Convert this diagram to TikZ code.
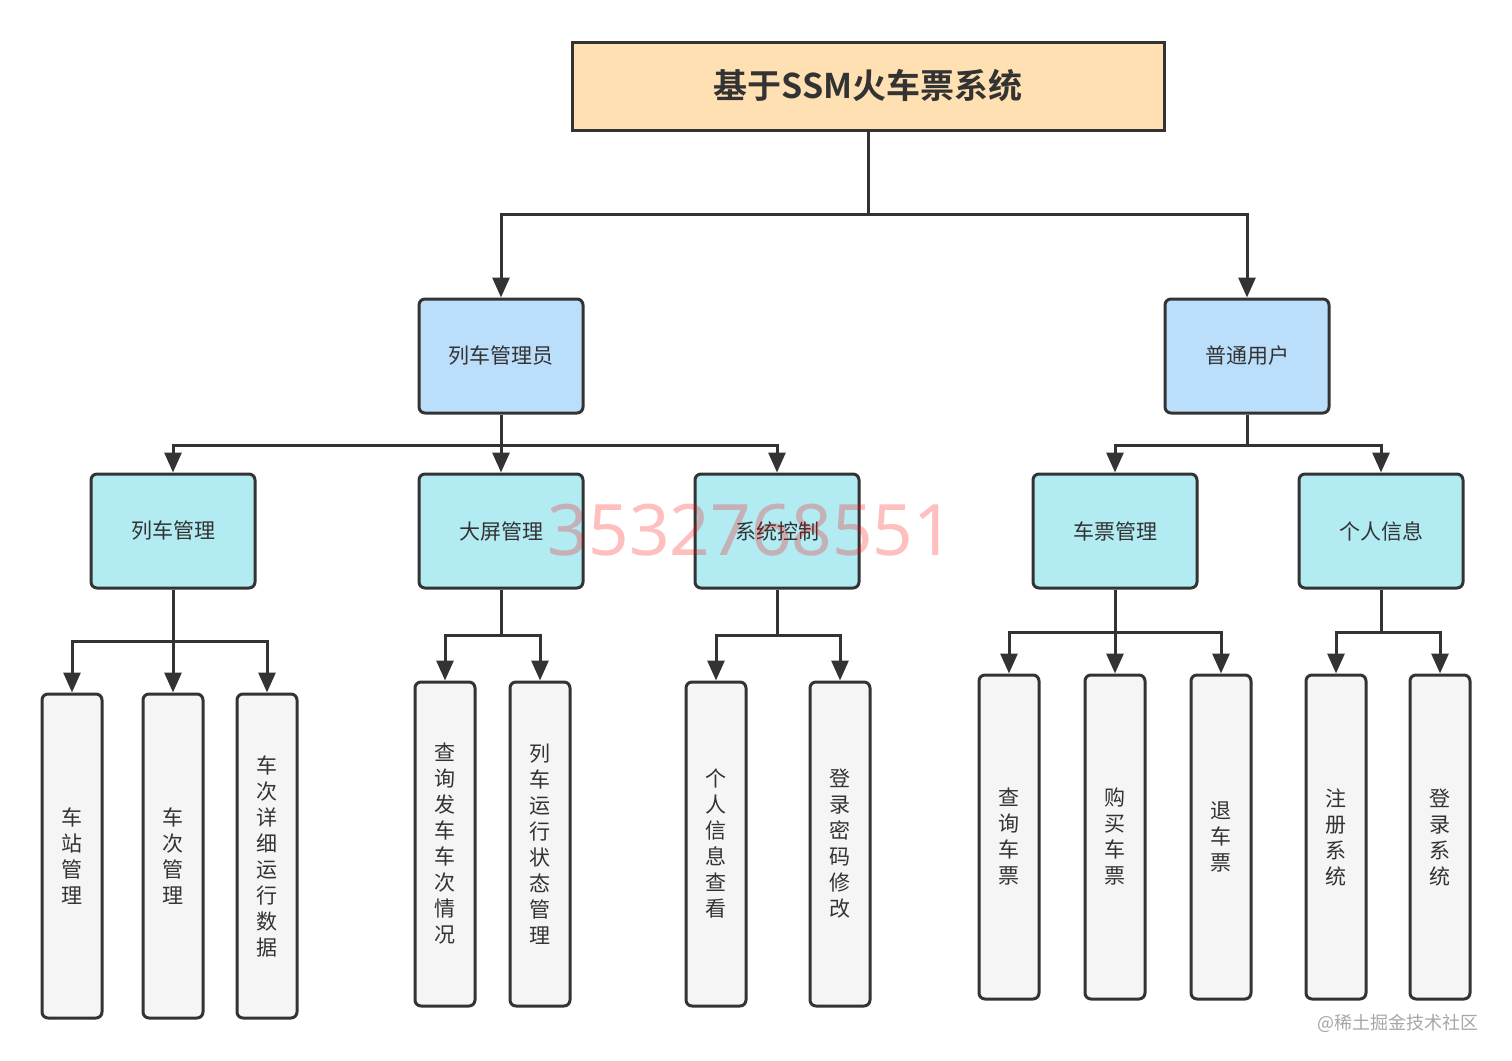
\documentclass[tikz,border=0pt]{standalone}
\usepackage{fontspec}
\usetikzlibrary{arrows.meta}
\newfontfamily\cjk{Noto Sans CJK SC}[BoldFont={Noto Sans CJK SC Bold}]
\newfontfamily\digits{Noto Sans}
\definecolor{linegray}{HTML}{333333}
\definecolor{rootorange}{HTML}{FFE0B2}
\definecolor{roleblue}{HTML}{BBDEFB}
\definecolor{modcyan}{HTML}{B2EBF2}
\definecolor{leafgray}{HTML}{F5F5F5}

\begin{document}
\begin{tikzpicture}[x=0.5pt,y=-0.5pt,
  box/.style={rectangle,draw=linegray,line width=1.5pt,rounded corners=3pt,text=linegray,
    font=\cjk\fontsize{10.5}{13}\selectfont,minimum width=82pt,minimum height=57pt,inner sep=0pt},
  rootbox/.style={box,rounded corners=0pt,fill=rootorange,minimum width=296pt,minimum height=44pt,
    font=\cjk\bfseries\fontsize{17}{20}\selectfont},
  rolebox/.style={box,fill=roleblue},
  modbox/.style={box,fill=modcyan},
  leaf/.style={box,fill=leafgray,minimum width=30pt,minimum height=162pt,align=center},
  arr/.style={draw=linegray,line width=1.5pt,-{Triangle[length=10pt,width=8.5pt]}}]
\useasboundingbox (0,0) rectangle (1512,1061);

\node[rootbox] (sys) at (868,86) {基于SSM火车票系统};

\node[rolebox] (admin) at (501,356) {列车管理员};
\node[rolebox] (user) at (1247,356) {普通用户};

\node[modbox] (train) at (173,531) {列车管理};
\node[modbox] (screen) at (501,531) {大屏管理};
\node[modbox] (ctrl) at (777,531) {系统控制};
\node[modbox] (ticket) at (1115,531) {车票管理};
\node[modbox] (info) at (1381,531) {个人信息};

\node[leaf] (station) at (72,856) {车\\站\\管\\理};
\node[leaf] (trainno) at (173,856) {车\\次\\管\\理};
\node[leaf] (rundata) at (267,856) {车\\次\\详\\细\\运\\行\\数\\据};
\node[leaf] (query) at (445,844) {查\\询\\发\\车\\车\\次\\情\\况};
\node[leaf] (state) at (540,844) {列\\车\\运\\行\\状\\态\\管\\理};
\node[leaf] (view) at (716,844) {个\\人\\信\\息\\查\\看};
\node[leaf] (pwd) at (840,844) {登\\录\\密\\码\\修\\改};
\node[leaf] (search) at (1009,837) {查\\询\\车\\票};
\node[leaf] (buy) at (1115,837) {购\\买\\车\\票};
\node[leaf] (refund) at (1221,837) {退\\车\\票};
\node[leaf] (reg) at (1336,837) {注\\册\\系\\统};
\node[leaf] (login) at (1440,837) {登\\录\\系\\统};

\draw[arr] (sys.south) -- ++(0,83) -| (admin.north);
\draw[arr] (sys.south) -- ++(0,83) -| (user.north);

\draw[arr] (admin.south) -- ++(0,31) -| (train.north);
\draw[arr] (admin.south) -- (screen.north);
\draw[arr] (admin.south) -- ++(0,31) -| (ctrl.north);
\draw[arr] (user.south) -- ++(0,31) -| (ticket.north);
\draw[arr] (user.south) -- ++(0,31) -| (info.north);

\draw[arr] (train.south) -- ++(0,52) -| (station.north);
\draw[arr] (train.south) -- (trainno.north);
\draw[arr] (train.south) -- ++(0,52) -| (rundata.north);
\draw[arr] (screen.south) -- ++(0,46) -| (query.north);
\draw[arr] (screen.south) -- ++(0,46) -| (state.north);
\draw[arr] (ctrl.south) -- ++(0,46) -| (view.north);
\draw[arr] (ctrl.south) -- ++(0,46) -| (pwd.north);
\draw[arr] (ticket.south) -- ++(0,43) -| (search.north);
\draw[arr] (ticket.south) -- (buy.north);
\draw[arr] (ticket.south) -- ++(0,43) -| (refund.north);
\draw[arr] (info.south) -- ++(0,43) -| (reg.north);
\draw[arr] (info.south) -- ++(0,43) -| (login.north);

% watermarks
\node[text=red,opacity=0.25,font=\digits\fontsize{35.5}{40}\selectfont] (mark) at (751,530) {3532768551};
\node[text=black!35,font=\cjk\fontsize{9}{11}\selectfont,anchor=east] (site) at (1486,1023) {@稀土掘金技术社区};
\end{tikzpicture}
\end{document}
